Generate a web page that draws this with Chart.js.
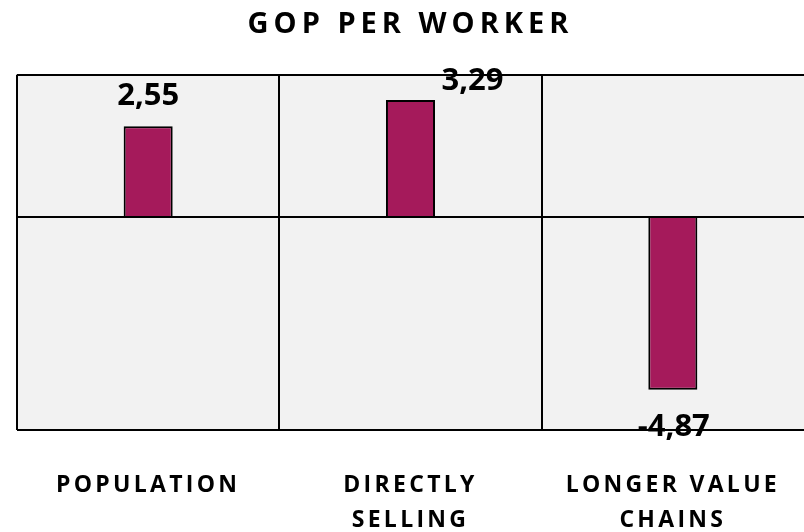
<!DOCTYPE html>
<html>
<head>
<meta charset="utf-8">
<script src="https://cdn.jsdelivr.net/npm/chart.js@4.4.1/dist/chart.umd.min.js"></script>
<style>
  html, body { margin: 0; padding: 0; background: #ffffff; }
  #wrap { width: 804px; height: 532px; position: relative; }
</style>
</head>
<body>
<div id="wrap"><canvas id="chart"></canvas></div>
<script>
// chart data
const chartTitle = 'GOP PER WORKER';
const categories = [['POPULATION'], ['DIRECTLY', 'SELLING'], ['LONGER VALUE', 'CHAINS']];
const gopValues = [2.55, 3.29, -4.87];
const yMin = -6;
const yMax = 4;

const FONT = "'Open Sans', sans-serif";

// fills the plot area and switches canvas letter spacing between title, labels and ticks
const spacingPlugin = {
    id: 'spacing',
    beforeDraw(chart) {
        const { ctx, chartArea } = chart;
        ctx.save();
        ctx.fillStyle = '#f2f2f2';
        ctx.fillRect(chartArea.left, chartArea.top, chartArea.right - chartArea.left, chartArea.bottom - chartArea.top);
        ctx.restore();
        ctx.letterSpacing = '5px';
    },
    beforeDatasetsDraw(chart) {
        chart.ctx.letterSpacing = '0px';
    },
    afterDatasetsDraw(chart) {
        // x tick labels are on a layer above the datasets (ticks.z = 1)
        chart.ctx.letterSpacing = '3.3px';
    },
    afterDraw(chart) {
        chart.ctx.letterSpacing = '0px';
        // value labels go on top of everything, like the reference
        const ctx = chart.ctx;
        const meta = chart.getDatasetMeta(0);
        const offsets = [[0, -30], [62, -19], [1, 37]];
        ctx.save();
        ctx.font = 'bold 31px ' + FONT;
        ctx.fillStyle = '#000000';
        ctx.textAlign = 'center';
        ctx.textBaseline = 'middle';
        meta.data.forEach(function(bar, i) {
            const txt = gopValues[i].toFixed(2).replace('.', ',');
            ctx.fillText(txt, bar.x + offsets[i][0], bar.y + offsets[i][1]);
        });
        ctx.restore();
    }
};

new Chart(document.getElementById('chart').getContext('2d'), {
    type: 'bar',
    data: {
        labels: categories,
        datasets: [{
            data: gopValues,
            backgroundColor: '#a51a5b',
            borderColor: '#000000',
            borderWidth: 2,
            categoryPercentage: 1,
            barPercentage: 0.187
        }]
    },
    options: {
        responsive: true,
        maintainAspectRatio: false,
        animation: false,
        layout: { padding: { left: 17, right: 0, top: 0, bottom: 0 } },
        plugins: {
            legend: { display: false },
            tooltip: { enabled: false },
            title: {
                display: true,
                text: chartTitle,
                color: '#000000',
                font: { family: FONT, size: 29, weight: 'bold' },
                padding: { top: 7, bottom: 33 }
            }
        },
        scales: {
            x: {
                border: { display: false },
                grid: {
                    lineWidth: 2,
                    drawTicks: false,
                    offset: true,
                    color(c) { return c.type === 'tick' ? '#000000' : 'rgba(0,0,0,0)'; }
                },
                ticks: {
                    z: 1,
                    color: '#000000',
                    padding: 38,
                    font: { family: FONT, size: 23, weight: 'bold', lineHeight: 1.52 }
                },
                afterFit(scale) { scale.height = 102; }
            },
            y: {
                min: yMin,
                max: yMax,
                border: { display: false },
                grid: {
                    lineWidth: 2,
                    drawTicks: false,
                    color(c) {
                        const v = c.tick && c.tick.value;
                        return (v === 0 || v === yMin || v === yMax) ? '#000000' : 'rgba(0,0,0,0)';
                    }
                },
                ticks: { display: false, stepSize: 2 }
            }
        }
    },
    plugins: [spacingPlugin]
});
</script>
</body>
</html>
